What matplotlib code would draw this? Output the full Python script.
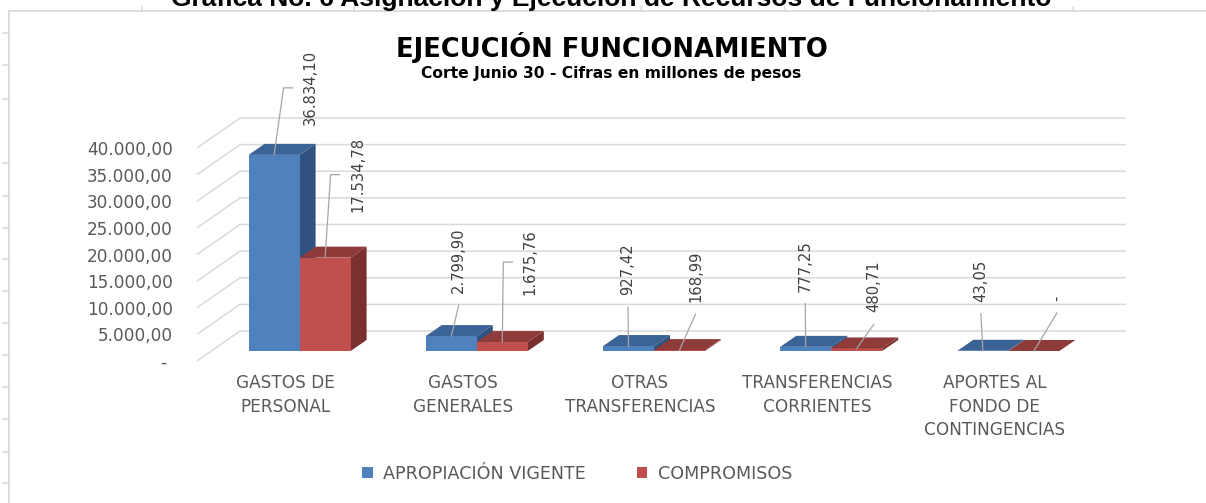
import matplotlib
matplotlib.use("Agg")
import matplotlib.pyplot as plt
from matplotlib.patches import Polygon, Patch
from matplotlib.lines import Line2D
from matplotlib import font_manager

# ---------------- data ----------------
categories = ["GASTOS DE\nPERSONAL", "GASTOS\nGENERALES", "OTRAS\nTRANSFERENCIAS",
              "TRANSFERENCIAS\nCORRIENTES", "APORTES AL\nFONDO DE\nCONTINGENCIAS"]
apropiacion = [36834.10, 2799.90, 927.42, 777.25, 43.05]
compromisos = [17534.78, 1675.76, 168.99, 480.71, 0.0]
series_names = ["APROPIACIÓN VIGENTE", "COMPROMISOS"]
yticks = [0, 5000, 10000, 15000, 20000, 25000, 30000, 35000, 40000]
chart_title = "EJECUCIÓN FUNCIONAMIENTO"
chart_subtitle = "Corte Junio 30 - Cifras en millones de pesos"
doc_caption = "Gráfica No. 6 Asignación y Ejecución de Recursos de Funcionamiento"

# ---------------- style ----------------
W, H = 1206, 503
BLUE = ("#4F81BD", "#3B6396", "#2F5280")     # front, top, side
RED = ("#C0504D", "#8F3B39", "#7A302E")
GRID = "#d9d9d9"
TXT = "#595959"
LBL = "#404040"

names = {f.name for f in font_manager.fontManager.ttflist}
if "Liberation Sans Narrow" in names:
    lab_font, lab_size = "Liberation Sans Narrow", 14.5
else:
    lab_font, lab_size = "DejaVu Sans", 10.6


def es_fmt(v):
    if v == 0:
        return "-"
    s = f"{v:,.2f}"
    return s.replace(",", "X").replace(".", ",").replace("X", ".")


fig = plt.figure(figsize=(W / 100, H / 100), dpi=100)
fig.patch.set_facecolor("white")

# axes = front plane of the 3-D box
ax_l, ax_r, ax_top, ax_bot = 197, 1083, 148, 361
ax = fig.add_axes([ax_l / W, (H - ax_bot) / H, (ax_r - ax_l) / W, (ax_bot - ax_top) / H])
ax.set_xlim(-0.5, len(categories) - 0.5)
ax.set_ylim(0, 40000)
for s in ax.spines.values():
    s.set_visible(False)
ax.patch.set_alpha(0)

sx = (ax_r - ax_l) / (len(categories))       # px per x unit
sy = (ax_bot - ax_top) / 40000.0             # px per y unit


def px(dx, dy):
    return dx / sx, dy / sy


# box geometry in px
WALL_DX, WALL_DY = 43, 30
PLANE_DX, PLANE_DY = 14, 10
DEPTH_DX, DEPTH_DY = 16, 11
BAR_W = 51 / sx

# gridlines (side wall + back wall)
wdx, wdy = px(WALL_DX, WALL_DY)
x0, x1 = ax.get_xlim()
for v in yticks:
    ax.plot([x0, x0 + wdx, x1 + wdx], [v, v + wdy, v + wdy], color=GRID, lw=1.1,
            clip_on=False, zorder=1, solid_capstyle="butt")

pdx, pdy = px(PLANE_DX, PLANE_DY)
ddx, ddy = px(DEPTH_DX, DEPTH_DY)
xs = list(range(len(categories)))

handles = []
for k, (vals, cols, name) in enumerate([(apropiacion, BLUE, series_names[0]),
                                         (compromisos, RED, series_names[1])]):
    lefts = [x + pdx + (k - 1) * BAR_W for x in xs]
    ax.bar(lefts, vals, width=BAR_W, bottom=pdy, align="edge", color=cols[0],
           linewidth=0, zorder=3 + k * 3, clip_on=False, label=name)
    handles.append(Patch(facecolor=cols[0], label=name))
    for xl, v in zip(lefts, vals):
        xr = xl + BAR_W
        b = pdy
        side = Polygon([(xr, b), (xr, b + v), (xr + ddx, b + v + ddy), (xr + ddx, b + ddy)],
                       closed=True, facecolor=cols[2], edgecolor="none", zorder=2 + k * 3,
                       clip_on=False)
        top = Polygon([(xl, b + v), (xr, b + v), (xr + ddx, b + v + ddy), (xl + ddx, b + v + ddy)],
                      closed=True, facecolor=cols[1], edgecolor="none", zorder=4 + k * 3,
                      clip_on=False)
        ax.add_patch(side)
        ax.add_patch(top)

# data labels with leader lines; offsets (px) relative to bar front-top centre
# (kind, dx, dy): 'e' = elbow leader, label centre given; 's' = straight leader, label bottom given
label_layout = [
    [("e", 36.5, 67), ("s", 7.5, 43), ("s", -0.5, 51), ("s", -0.5, 55), ("s", -2, 49)],
    [("e", 32.5, 83), ("e", 28, 80), ("s", 16, 48), ("s", 17, 36), ("s", 23, 50)],
]
for k, vals in enumerate([apropiacion, compromisos]):
    for i, v in enumerate(vals):
        cx = xs[i] + pdx + (k - 0.5) * BAR_W
        cy = pdy + v
        kind, ldx, ldy = label_layout[k][i]
        lx, ly = cx + ldx / sx, cy + ldy / sy
        if kind == "e":
            ax.text(lx, ly, es_fmt(v), rotation=90, ha="center", va="center",
                    fontsize=lab_size, family=lab_font, color=LBL, clip_on=False, zorder=10)
            ex = lx - 27 / sx
            ax.plot([cx, ex, lx - 18 / sx], [cy, ly, ly], color="#a6a6a6", lw=0.9,
                    clip_on=False, zorder=9)
        else:
            ax.text(lx, ly, es_fmt(v), rotation=90, ha="center", va="bottom",
                    fontsize=lab_size, family=lab_font, color=LBL, clip_on=False, zorder=10)
            ax.plot([cx, lx], [cy, ly - 12 / sy], color="#a6a6a6", lw=0.9,
                    clip_on=False, zorder=9)

# axes ticks
ax.set_yticks(yticks, [es_fmt(v) + (" " if v == 0 else "") for v in yticks])
ax.set_xticks(xs, categories)
ax.tick_params(axis="y", length=0, pad=17.3, labelsize=12.2, labelcolor=TXT)
ax.tick_params(axis="x", length=0, pad=9.5, labelsize=12.2, labelcolor=TXT)
for t in ax.get_xticklabels():
    t.set_linespacing(1.38)

# titles
fig.text(612 / W, (H - 57) / H, chart_title, ha="center", va="baseline",
         fontsize=18.5, fontweight="bold", color="black")
fig.text(611 / W, (H - 78) / H, chart_subtitle, ha="center", va="baseline",
         fontsize=11.2, fontweight="bold", color="black")
fig.text(611 / W, (H - 6) / H, doc_caption, ha="center", va="baseline",
         fontsize=19, fontweight="bold", family="Liberation Sans", color="black")

# legend
fig.legend(handles=handles, loc="center", bbox_to_anchor=(577 / W, (H - 474) / H),
           ncol=2, frameon=False, fontsize=12.6, labelcolor=TXT, handlelength=0.6,
           handleheight=0.6, handletextpad=0.6, columnspacing=2.9)

# document frame decorations
FR = "#d9d9d9"
fig.add_artist(Line2D([9 / W, 1.0], [(H - 11) / H] * 2, color=FR, lw=1.3))
fig.add_artist(Line2D([9 / W, 9 / W], [0, (H - 11) / H], color=FR, lw=1.3))
for yy in [33, 65, 99, 163, 196, 228, 259, 291, 323, 355, 387, 419, 452, 483]:
    fig.add_artist(Line2D([3 / W, 9 / W], [(H - yy) / H] * 2, color=FR, lw=1.1))
for xx in [142, 354, 498, 641, 785, 928, 1073]:
    fig.add_artist(Line2D([xx / W, xx / W], [(H - 11) / H, (H - 7) / H], color=FR, lw=1.1))

fig.savefig("out.png", dpi=100, facecolor="white")
